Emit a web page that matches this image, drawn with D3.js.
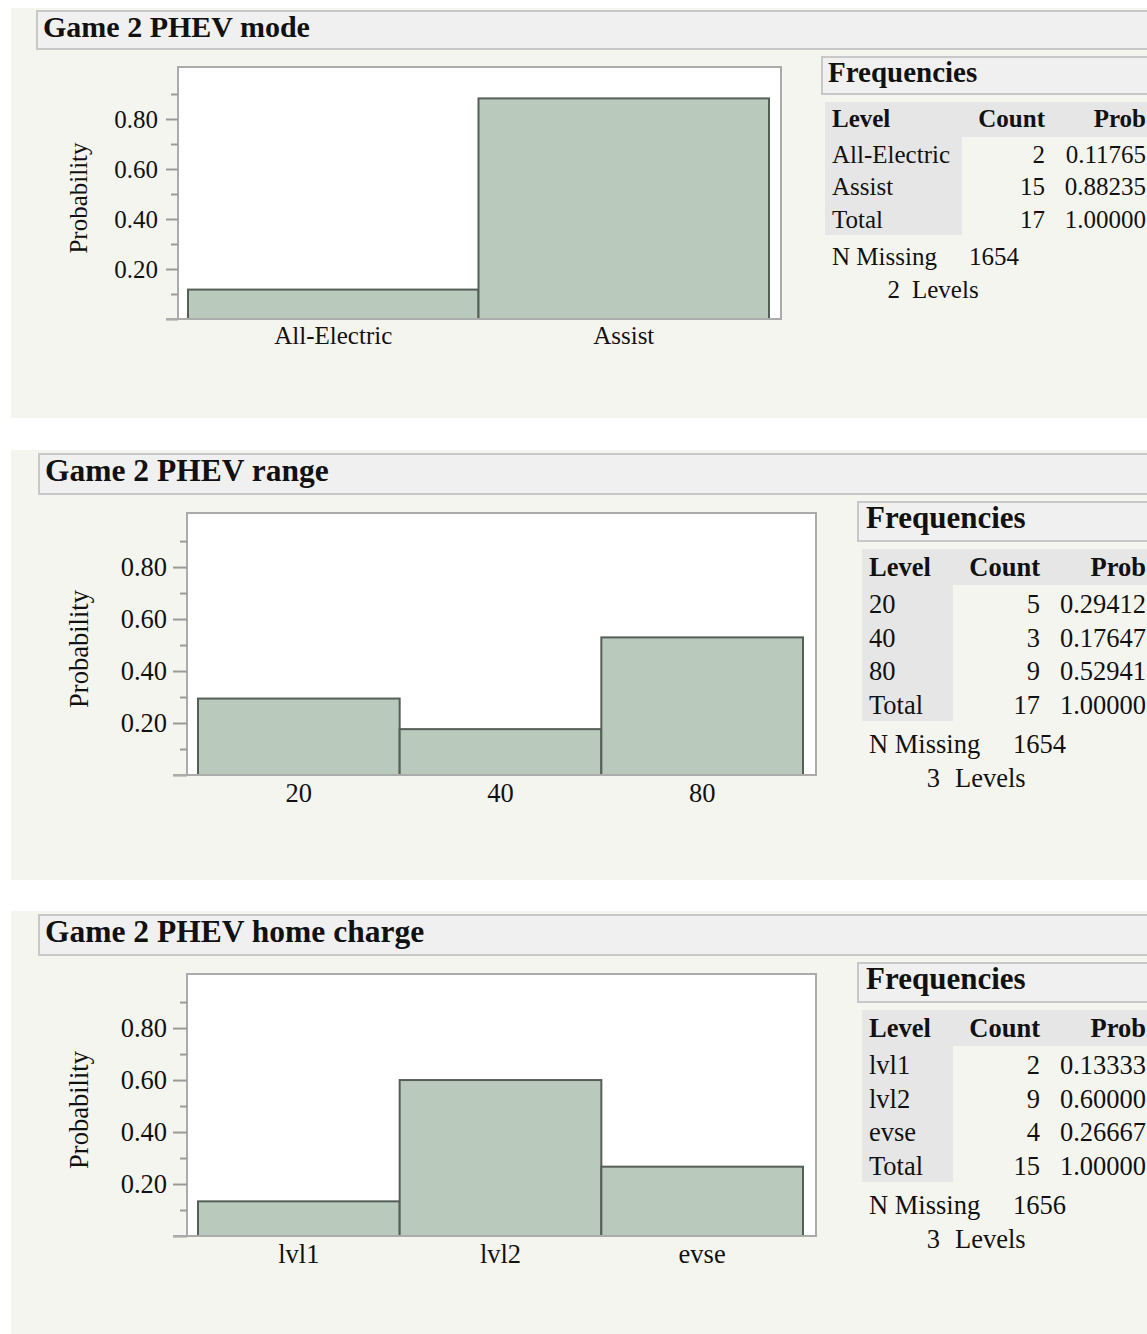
<!DOCTYPE html>
<html><head><meta charset="utf-8">
<script src="https://cdn.jsdelivr.net/npm/d3@7"></script>
<style>
html,body{margin:0;padding:0;background:#fff;overflow:hidden;}
svg{display:block;}
text{font-family:"Liberation Serif","Times New Roman",serif;fill:#111;}
</style></head><body>
<svg id="c" width="1147" height="1334"></svg>
<script>
// ---------- data ----------
const titles = ["Game 2 PHEV mode", "Game 2 PHEV range", "Game 2 PHEV home charge"];

const modeLevels = ["All-Electric", "Assist"];
const modeCounts = [2, 15];
const modeProbs = ["0.11765", "0.88235"];
const modeTotal = 17;
const modeMissing = 1654;

const rangeLevels = ["20", "40", "80"];
const rangeCounts = [5, 3, 9];
const rangeProbs = ["0.29412", "0.17647", "0.52941"];
const rangeTotal = 17;
const rangeMissing = 1654;

const chargeLevels = ["lvl1", "lvl2", "evse"];
const chargeCounts = [2, 9, 4];
const chargeProbs = ["0.13333", "0.60000", "0.26667"];
const chargeTotal = 15;
const chargeMissing = 1656;

const yMajorTicks = [0, 0.2, 0.4, 0.6, 0.8];
const yMinorTicks = [0.1, 0.3, 0.5, 0.7, 0.9];
const yAxisTitle = "Probability";
const tableHeaders = ["Level", "Count", "Prob"];
const freqTitle = "Frequencies";

// ---------- layout ----------
const L1 = {bg:[11,8,1136,410], title:{x:37,y:11,h:38,tx:43,ty:37,fs:30},
  frame:{x0:178,y0:67,x1:781,y1:319}, bars:[188,769], yMax:1.008, major:12, minor:7,
  tickFs:25, tickPad:8, yLab:{x:87,y:198}, xLabY:344,
  freq:{x:822,y:57,h:37,tx:828,ty:82,fs:29}, hdr:{x:825,y:102,h:35,ty:127},
  levelCol:{x1:962,y1:235}, rowY:[163,195,228], levelX:832, countR:1045, probL:1066, probR:1146,
  missY:265, missValX:969, levelsNumR:900, levelsTxtX:912, levelsY:298, fs:25};
function L23(dy, h){ return {bg:[11,450+dy,1136,h], title:{x:39,y:454+dy,h:40,tx:45,ty:481+dy,fs:31.5},
  frame:{x0:187,y0:513+dy,x1:816,y1:775+dy}, bars:[198,803], yMax:1.008, major:14, minor:7,
  tickFs:26.5, tickPad:6, yLab:{x:88,y:649+dy}, xLabY:802+dy,
  freq:{x:858,y:502+dy,h:39,tx:866,ty:528+dy,fs:31}, hdr:{x:862,y:549+dy,h:36,ty:576+dy},
  levelCol:{x1:953,y1:721+dy}, rowY:[613+dy,647+dy,680+dy,714+dy], levelX:869, countR:1040, probL:1061, probR:1146,
  missY:753+dy, missValX:1013, levelsNumR:940, levelsTxtX:955, levelsY:787+dy, fs:26.5}; }

const svg = d3.select("#c");

function drawPanel(title, levels, counts, probs, total, missing, L) {
  const g = svg.append("g");
  g.append("rect").attr("x",L.bg[0]).attr("y",L.bg[1]).attr("width",L.bg[2]).attr("height",L.bg[3]).attr("fill","#f5f5f0");
  // title box
  g.append("rect").attr("x",L.title.x).attr("y",L.title.y).attr("width",1200).attr("height",L.title.h)
    .attr("fill","#f0f0f0").attr("stroke","#c8c8c8").attr("stroke-width",2);
  g.append("text").attr("x",L.title.tx).attr("y",L.title.ty).attr("font-size",L.title.fs).attr("font-weight","bold").text(title);

  // plot frame
  const F = L.frame;
  g.append("rect").attr("x",F.x0).attr("y",F.y0).attr("width",F.x1-F.x0).attr("height",F.y1-F.y0)
    .attr("fill","#fff").attr("stroke","#ababab").attr("stroke-width",2);

  const y = d3.scaleLinear().domain([0, L.yMax]).range([F.y1, F.y0]);
  const x = d3.scaleBand().domain(levels).range(L.bars).padding(0);

  const vals = probs.map(Number);
  g.selectAll("rect.bar").data(levels).join("rect").attr("class","bar")
    .attr("x", d => x(d)).attr("width", x.bandwidth())
    .attr("y", (d,i) => y(vals[i])).attr("height", (d,i) => y(0) - y(vals[i]))
    .attr("fill","#b9c9bb").attr("stroke","#565e58").attr("stroke-width",2);

  // y axis major
  const ax = g.append("g").attr("transform",`translate(${F.x0},0)`)
    .call(d3.axisLeft(y).tickValues(yMajorTicks).tickSize(L.major).tickPadding(L.tickPad)
      .tickFormat(d => d === 0 ? "" : d3.format(".2f")(d)));
  ax.select(".domain").remove();
  ax.selectAll("line").attr("stroke","#9a9a9a").attr("stroke-width",2);
  ax.selectAll("text").attr("font-size",L.tickFs).attr("fill","#111")
    .attr("font-family",'"Liberation Serif","Times New Roman",serif');
  const axm = g.append("g").attr("transform",`translate(${F.x0},0)`)
    .call(d3.axisLeft(y).tickValues(yMinorTicks).tickSize(L.minor).tickFormat(""));
  axm.select(".domain").remove();
  axm.selectAll("line").attr("stroke","#9a9a9a").attr("stroke-width",2);
  // baseline
  g.append("line").attr("x1",F.x0-L.major).attr("x2",F.x1+1).attr("y1",F.y1).attr("y2",F.y1)
    .attr("stroke","#ababab").attr("stroke-width",2);

  g.append("text").attr("transform",`translate(${L.yLab.x},${L.yLab.y}) rotate(-90)`)
    .attr("text-anchor","middle").attr("font-size",L.fs).text(yAxisTitle);

  // x labels
  g.selectAll("text.xl").data(levels).join("text").attr("class","xl")
    .attr("x", d => x(d) + x.bandwidth()/2).attr("y", L.xLabY)
    .attr("text-anchor","middle").attr("font-size",L.fs).text(d => d);

  // frequencies
  g.append("rect").attr("x",L.freq.x).attr("y",L.freq.y).attr("width",400).attr("height",L.freq.h)
    .attr("fill","#f0f0f0").attr("stroke","#c8c8c8").attr("stroke-width",2);
  g.append("text").attr("x",L.freq.tx).attr("y",L.freq.ty).attr("font-size",L.freq.fs).attr("font-weight","bold").text(freqTitle);
  g.append("rect").attr("x",L.hdr.x).attr("y",L.hdr.y).attr("width",400).attr("height",L.hdr.h).attr("fill","#e6e6e6");
  g.append("rect").attr("x",L.hdr.x).attr("y",L.hdr.y+L.hdr.h).attr("width",L.levelCol.x1-L.hdr.x)
    .attr("height",L.levelCol.y1-(L.hdr.y+L.hdr.h)).attr("fill","#e6e6e6");
  g.append("text").attr("x",L.levelX).attr("y",L.hdr.ty).attr("font-size",L.fs).attr("font-weight","bold").text(tableHeaders[0]);
  g.append("text").attr("x",L.countR).attr("y",L.hdr.ty).attr("text-anchor","end").attr("font-size",L.fs).attr("font-weight","bold").text(tableHeaders[1]);
  g.append("text").attr("x",L.probR).attr("y",L.hdr.ty).attr("text-anchor","end").attr("font-size",L.fs).attr("font-weight","bold").text(tableHeaders[2]);

  const rows = levels.map((d,i) => [d, counts[i], probs[i]]).concat([["Total", total, "1.00000"]]);
  rows.forEach((r,i) => {
    g.append("text").attr("x",L.levelX).attr("y",L.rowY[i]).attr("font-size",L.fs).text(r[0]);
    g.append("text").attr("x",L.countR).attr("y",L.rowY[i]).attr("text-anchor","end").attr("font-size",L.fs).text(r[1]);
    g.append("text").attr("x",L.probR).attr("y",L.rowY[i]).attr("text-anchor","end").attr("font-size",L.fs).text(r[2]);
  });
  g.append("text").attr("x",L.levelX).attr("y",L.missY).attr("font-size",L.fs).text("N Missing");
  g.append("text").attr("x",L.missValX).attr("y",L.missY).attr("font-size",L.fs).text(missing);
  g.append("text").attr("x",L.levelsNumR).attr("y",L.levelsY).attr("text-anchor","end").attr("font-size",L.fs).text(levels.length);
  g.append("text").attr("x",L.levelsTxtX).attr("y",L.levelsY).attr("font-size",L.fs).text("Levels");
}

drawPanel(titles[0], modeLevels, modeCounts, modeProbs, modeTotal, modeMissing, L1);
drawPanel(titles[1], rangeLevels, rangeCounts, rangeProbs, rangeTotal, rangeMissing, L23(0, 430));
drawPanel(titles[2], chargeLevels, chargeCounts, chargeProbs, chargeTotal, chargeMissing, L23(461, 423));
</script>
</body></html>
